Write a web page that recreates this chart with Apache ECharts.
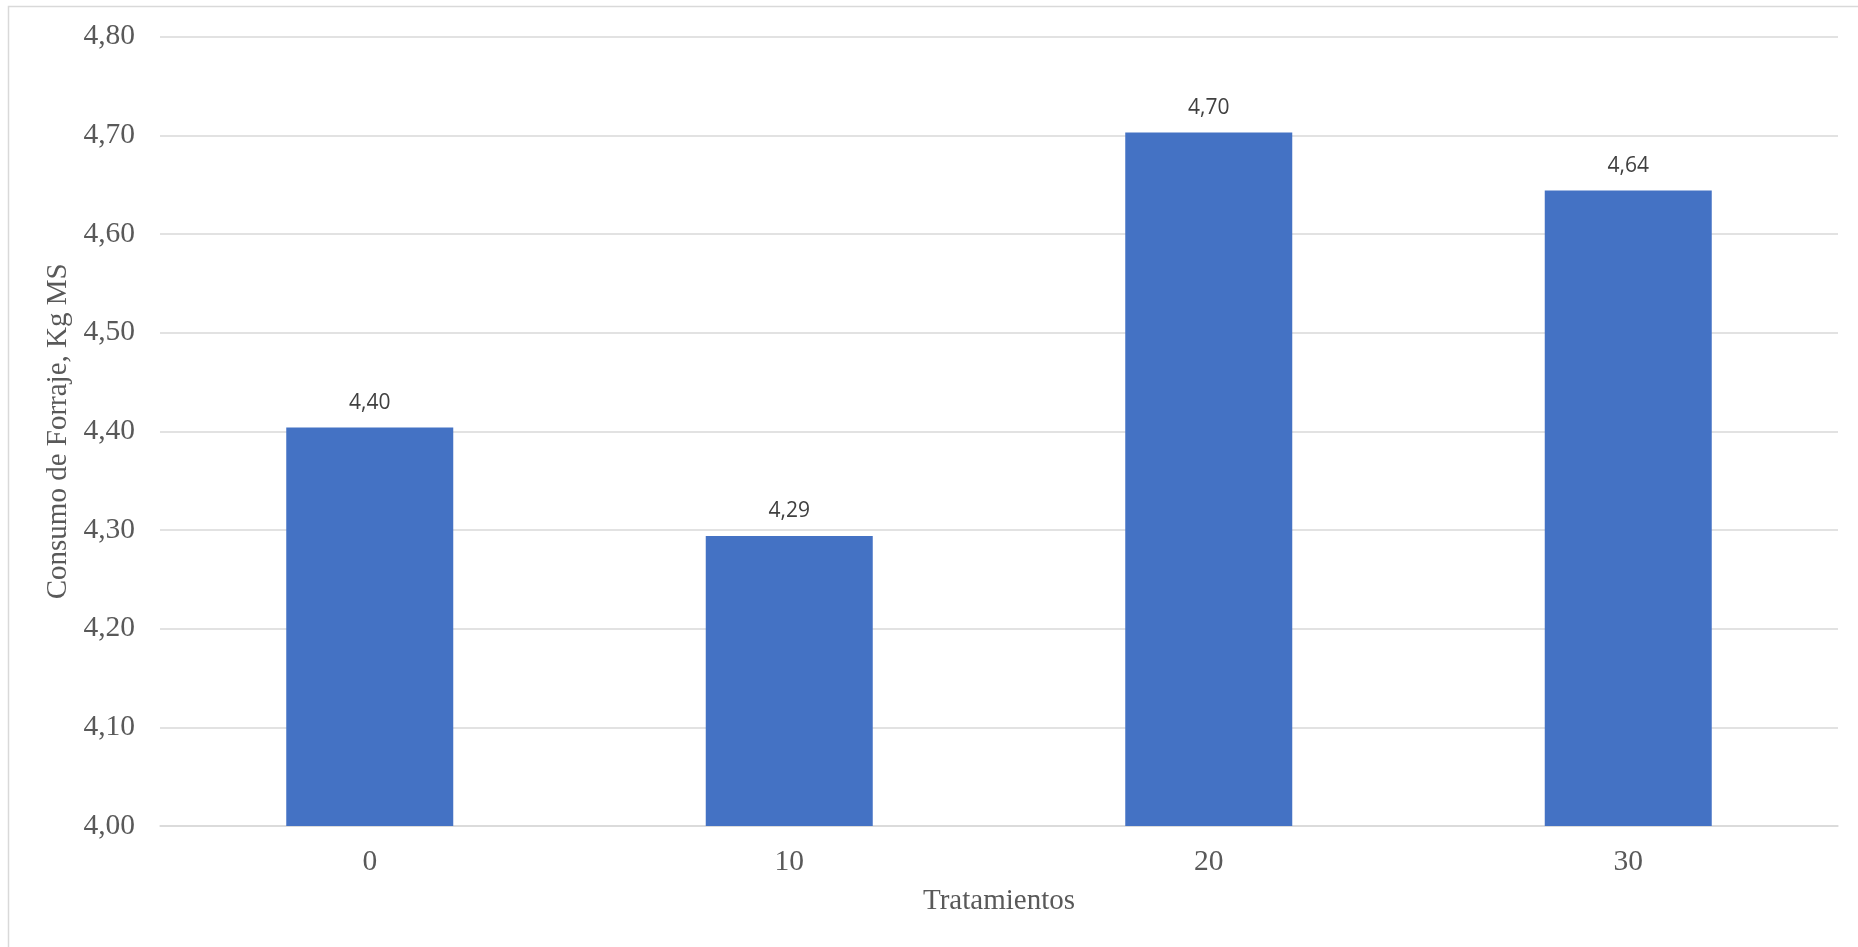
<!DOCTYPE html>
<html>
<head>
<meta charset="utf-8">
<title>Consumo de Forraje</title>
<script src="https://cdn.jsdelivr.net/npm/echarts@6/dist/echarts.min.js"></script>
<style>
  html, body { margin: 0; padding: 0; background: #ffffff; }
  #chart { width: 1858px; height: 947px; }
</style>
</head>
<body>
<div id="chart"></div>
<script>
// Treatment levels on the x axis
const categories = ['0', '10', '20', '30'];
// Forage intake per treatment (kg dry matter)
const consumo = [4.404, 4.294, 4.703, 4.644];
// Value axis range and step
const yMin = 4.0;
const yMax = 4.8;
const yStep = 0.1;

const xAxisTitle = 'Tratamientos';
const yAxisTitle = 'Consumo de Forraje, Kg MS';

const serif = '"Liberation Serif", "Times New Roman", serif';
const fmtComma = v => Number(v).toFixed(2).replace('.', ',');

const chart = echarts.init(document.getElementById('chart'), null, { renderer: 'canvas' });

chart.setOption({
  backgroundColor: '#ffffff',
  animation: false,
  grid: { left: 160, right: 20, top: 36.7, bottom: 121, containLabel: false },
  graphic: [
    {
      type: 'polyline',
      silent: true,
      shape: { points: [[8.5, 947], [8.5, 6.5], [1858, 6.5]] },
      style: { stroke: '#d9d9d9', lineWidth: 1.5, fill: null }
    }
  ],
  xAxis: {
    type: 'category',
    data: categories,
    name: xAxisTitle,
    nameLocation: 'middle',
    nameGap: 61,
    nameTextStyle: { fontFamily: serif, fontSize: 29, color: '#595959' },
    axisLine: { show: true, lineStyle: { color: '#d9d9d9', width: 1.5 } },
    axisTick: { show: false },
    axisLabel: { fontFamily: serif, fontSize: 29.5, color: '#595959', margin: 21 },
    splitLine: { show: false }
  },
  yAxis: {
    type: 'value',
    min: yMin,
    max: yMax,
    interval: yStep,
    name: yAxisTitle,
    nameLocation: 'middle',
    nameGap: 85,
    nameTextStyle: { fontFamily: serif, fontSize: 29, color: '#595959' },
    axisLine: { show: false },
    axisTick: { show: false },
    axisLabel: { fontFamily: serif, fontSize: 29.5, color: '#595959', margin: 25, formatter: fmtComma },
    splitLine: { show: true, lineStyle: { color: '#d9d9d9', width: 1.5 } }
  },
  series: [
    {
      type: 'bar',
      data: consumo,
      barWidth: 167,
      itemStyle: { color: '#4472c4' },
      label: {
        show: true,
        position: 'top',
        distance: 14,
        fontFamily: '"Open Sans", "Liberation Sans", sans-serif',
        fontSize: 21,
        color: '#404040',
        formatter: p => fmtComma(p.value)
      }
    }
  ]
});
</script>
</body>
</html>
